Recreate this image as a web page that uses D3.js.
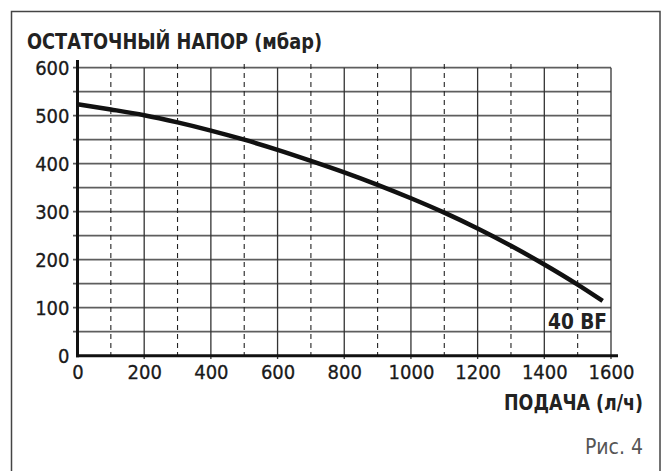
<!DOCTYPE html>
<html>
<head>
<meta charset="utf-8">
<script src="https://cdn.jsdelivr.net/npm/d3@7"></script>
<style>
  body { margin: 0; background: #fff; }
  svg { display: block; }
  text { font-family: "DejaVu Sans Condensed", "DejaVu Sans", sans-serif; }
</style>
</head>
<body>
<script>
var width = 664,
    height = 471;

// curve 40 BF: flow (l/h) vs residual head (mbar)
var flow = [0, 100, 200, 300, 400, 500, 600, 700, 800, 900, 1000, 1100, 1200, 1300, 1400, 1500, 1575];
var head = [524, 513, 501, 486, 469, 450, 429, 406, 382, 356, 328, 298, 265, 229, 190, 148, 114];

var xTicks = [0, 200, 400, 600, 800, 1000, 1200, 1400, 1600];
var xDashed = [100, 300, 500, 700, 900, 1100, 1300, 1500];
var yTicks = [0, 100, 200, 300, 400, 500, 600];
var yMinor = [50, 150, 250, 350, 450, 550];

var yTitle = "ОСТАТОЧНЫЙ НАПОР (мбар)",
    xTitle = "ПОДАЧА (л/ч)",
    curveName = "40 BF",
    figLabel = "Рис. 4";

var x = d3.scaleLinear().domain([0, 1600]).range([77.5, 611]);
var y = d3.scaleLinear().domain([0, 600]).range([355.7, 67.7]);

var svg = d3.select("body").append("svg")
    .attr("width", width)
    .attr("height", height);

// frame
svg.append("rect")
    .attr("x", 11.5).attr("y", 11.5)
    .attr("width", 648.5).attr("height", 480)
    .attr("fill", "none")
    .attr("stroke", "#444")
    .attr("stroke-width", 1.5);

// horizontal grid
svg.append("g").selectAll("line")
    .data(yTicks.concat(yMinor).filter(function(d) { return d > 0; }))
    .enter().append("line")
    .attr("x1", 73).attr("x2", x(1600))
    .attr("y1", function(d) { return y(d); })
    .attr("y2", function(d) { return y(d); })
    .attr("stroke", "#5e5e5e")
    .attr("stroke-width", 1.7);

// vertical grid, solid
svg.append("g").selectAll("line")
    .data(xTicks.filter(function(d) { return d > 0; }))
    .enter().append("line")
    .attr("x1", function(d) { return x(d); })
    .attr("x2", function(d) { return x(d); })
    .attr("y1", y(600)).attr("y2", 359)
    .attr("stroke", "#333")
    .attr("stroke-width", 1.3);

// vertical grid, dashed
svg.append("g").selectAll("line")
    .data(xDashed)
    .enter().append("line")
    .attr("x1", function(d) { return x(d); })
    .attr("x2", function(d) { return x(d); })
    .attr("y1", 64).attr("y2", 360)
    .attr("stroke", "#222")
    .attr("stroke-width", 1.1)
    .attr("stroke-dasharray", "5,4");

// axes lines
svg.append("line")
    .attr("x1", x(0)).attr("x2", x(0))
    .attr("y1", 60).attr("y2", y(0) + 1.5)
    .attr("stroke", "#111").attr("stroke-width", 3);
svg.append("line")
    .attr("x1", x(0) - 1.5).attr("x2", 618)
    .attr("y1", y(0)).attr("y2", y(0))
    .attr("stroke", "#111").attr("stroke-width", 3);

// tick labels via axes
var yAxis = svg.append("g")
    .attr("transform", "translate(" + x(0) + ",0)")
    .call(d3.axisLeft(y).tickValues(yTicks).tickFormat(d3.format("d")).tickSize(0).tickPadding(8));
var xAxis = svg.append("g")
    .attr("transform", "translate(0," + y(0) + ")")
    .call(d3.axisBottom(x).tickValues(xTicks).tickFormat(d3.format("d")).tickSize(0).tickPadding(8));
[yAxis, xAxis].forEach(function(a) {
  a.select(".domain").remove();
  a.selectAll("text")
    .attr("font-family", "'DejaVu Sans Condensed', sans-serif")
    .attr("font-size", 20)
    .attr("fill", "#1a1a1a")
    .attr("stroke", "#1a1a1a")
    .attr("stroke-width", 0.3);
});
yAxis.selectAll("text").attr("dy", "0.36em");
xAxis.selectAll("text").attr("dy", "0.76em");

// curve
var line = d3.line()
    .x(function(d, i) { return x(flow[i]); })
    .y(function(d) { return y(d); })
    .curve(d3.curveMonotoneX);

svg.append("path")
    .datum(head)
    .attr("d", line)
    .attr("fill", "none")
    .attr("stroke", "#111")
    .attr("stroke-width", 4.5);

// curve label
svg.append("rect")
    .attr("x", 546).attr("y", 310)
    .attr("width", 63).attr("height", 20)
    .attr("fill", "#fff");
svg.append("text")
    .attr("x", 607).attr("y", 329)
    .attr("text-anchor", "end")
    .attr("font-weight", "bold")
    .attr("font-size", 22)
    .attr("fill", "#222")
    .attr("textLength", 59)
    .attr("lengthAdjust", "spacingAndGlyphs")
    .text(curveName);

// titles
svg.append("text")
    .attr("x", 27).attr("y", 48.5)
    .attr("font-weight", "bold")
    .attr("font-size", 21)
    .attr("fill", "#222")
    .attr("textLength", 295)
    .attr("lengthAdjust", "spacingAndGlyphs")
    .text(yTitle);

svg.append("text")
    .attr("x", 643).attr("y", 410)
    .attr("text-anchor", "end")
    .attr("font-weight", "bold")
    .attr("font-size", 21)
    .attr("fill", "#222")
    .attr("textLength", 139)
    .attr("lengthAdjust", "spacingAndGlyphs")
    .text(xTitle);

svg.append("text")
    .attr("x", 643).attr("y", 454)
    .attr("text-anchor", "end")
    .attr("font-size", 21)
    .attr("fill", "#555")
    .text(figLabel);
</script>
</body>
</html>
